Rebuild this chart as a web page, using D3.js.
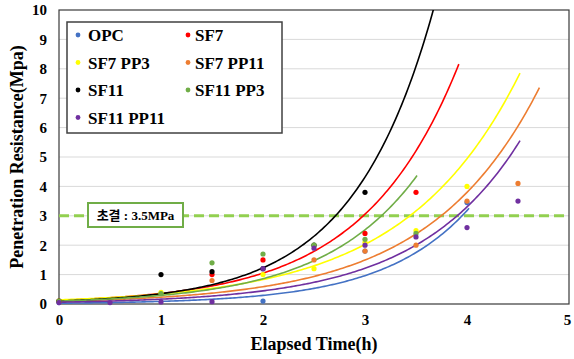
<!DOCTYPE html>
<html>
<head>
<meta charset="utf-8">
<script src="https://cdn.jsdelivr.net/npm/d3@7"></script>
<style>
  body { margin: 0; background: #fff; }
  svg { display: block; font-family: "Liberation Serif", "Times New Roman", serif; }
</style>
</head>
<body>
<div class="chart"></div>
<script>
// series names and colours
const seriesNames = ["OPC", "SF7", "SF7 PP3", "SF7 PP11", "SF11", "SF11 PP3", "SF11 PP11"];
const seriesColors = ["#4472C4", "#FF0000", "#FFFF00", "#ED7D31", "#000000", "#70AD47", "#7030A0"];

// measured points [time (h), resistance (MPa)]
const opcPts = [[0, 0.05], [2, 0.1], [3, 1.8], [4, 3.45]];
const sf7Pts = [[0, 0.1], [1.5, 1.0], [2, 1.5], [3, 2.4], [3.5, 3.8]];
const sf7pp3Pts = [[0, 0.1], [1, 0.4], [2, 1.0], [2.5, 1.2], [3, 2.1], [3.5, 2.5], [4, 4.0]];
const sf7pp11Pts = [[0, 0.1], [1.5, 0.8], [2.5, 1.5], [3, 1.8], [3.5, 2.0], [4, 3.5], [4.5, 4.1]];
const sf11Pts = [[0, 0.1], [1, 1.0], [1.5, 1.1], [2, 1.2], [2.5, 2.0], [3, 3.8]];
const sf11pp3Pts = [[0, 0.1], [1, 0.35], [1.5, 1.4], [2, 1.7], [2.5, 2.0], [3, 2.2], [3.5, 2.4]];
const sf11pp11Pts = [[0, 0.05], [0.5, 0.05], [1, 0.07], [1.5, 0.08], [2, 1.2], [2.5, 1.9], [3, 2.0], [3.5, 2.28], [4, 2.6], [4.5, 3.5]];
const allPts = [opcPts, sf7Pts, sf7pp3Pts, sf7pp11Pts, sf11Pts, sf11pp3Pts, sf11pp11Pts];

// exponential trendlines y = a * exp(b * t), drawn from 0 to tEnd
const trendA = [0.027, 0.124, 0.14, 0.0913, 0.1, 0.1, 0.0605];
const trendB = [1.192, 1.068, 0.891, 0.932, 1.255, 1.076, 1.0];
const trendEnd = [4.02, 3.92, 4.52, 4.71, 3.8, 3.51, 4.52];

const xTicks = [0, 1, 2, 3, 4, 5];
const yTicks = [0, 1, 2, 3, 4, 5, 6, 7, 8, 9, 10];
const setLevel = 3;
const setLabel = "초결 : 3.5MPa";

const W = 574, H = 359;
const margin = { top: 10, right: 5, bottom: 55, left: 59 };
const width = W - margin.left - margin.right,
  height = H - margin.top - margin.bottom;

const svg = d3.select(".chart").append("svg")
  .attr("width", W).attr("height", H);
const g = svg.append("g")
  .attr("transform", "translate(" + margin.left + "," + margin.top + ")");

const xScale = d3.scaleLinear().domain([0, 5]).range([0, width]);
const yScale = d3.scaleLinear().domain([0, 10]).range([height, 0]);

// gridlines
g.append("g").selectAll("line").data(yTicks.slice(1, -1)).join("line")
  .attr("x1", 0).attr("x2", width)
  .attr("y1", d => yScale(d)).attr("y2", d => yScale(d))
  .attr("stroke", "#d9d9d9").attr("stroke-width", 1);

// axes (labels only)
const xAxis = g.append("g").attr("transform", `translate(0,${height})`)
  .call(d3.axisBottom(xScale).tickValues(xTicks).tickFormat(d3.format("d"))
    .tickSize(0).tickPadding(10));
const yAxis = g.append("g")
  .call(d3.axisLeft(yScale).tickValues(yTicks).tickFormat(d3.format("d"))
    .tickSize(0).tickPadding(12));
[xAxis, yAxis].forEach(a => {
  a.select(".domain").remove();
  a.selectAll("text")
    .attr("font-family", "Liberation Serif, serif")
    .attr("font-weight", "bold")
    .attr("font-size", "15px")
    .attr("fill", "#000");
});
xAxis.selectAll(".tick").filter(d => d === 5).select("text").attr("dx", "-2");

// plot frame
g.append("rect").attr("width", width).attr("height", height)
  .attr("fill", "none").attr("stroke", "#3a3a3a").attr("stroke-width", 1.2);

g.append("clipPath").attr("id", "clip")
  .append("rect").attr("width", width).attr("height", height);

// set-time line
g.append("line")
  .attr("x1", 0).attr("x2", width)
  .attr("y1", yScale(setLevel)).attr("y2", yScale(setLevel))
  .attr("stroke", "#92D050").attr("stroke-width", 3)
  .attr("stroke-dasharray", "10,5");

// trendlines
const line = d3.line().x(d => xScale(d[0])).y(d => yScale(d[1]));
const curves = g.append("g").attr("clip-path", "url(#clip)");
seriesNames.forEach((name, i) => {
  const pts = d3.range(0, trendEnd[i] + 1e-9, 0.02)
    .concat([trendEnd[i]])
    .map(t => [t, trendA[i] * Math.exp(trendB[i] * t)]);
  curves.append("path")
    .attr("d", line(pts))
    .attr("fill", "none")
    .attr("stroke", seriesColors[i])
    .attr("stroke-width", 1.6);
});

// points
seriesNames.forEach((name, i) => {
  g.append("g").selectAll("circle").data(allPts[i]).join("circle")
    .attr("cx", d => xScale(d[0]))
    .attr("cy", d => yScale(d[1]))
    .attr("r", 2.6)
    .attr("fill", seriesColors[i]);
});

// label box
const lb = g.append("g").attr("transform", "translate(29,193)");
lb.append("rect").attr("width", 95).attr("height", 24)
  .attr("fill", "#fff").attr("stroke", "#70AD47").attr("stroke-width", 2);
lb.append("text").attr("x", 47.5).attr("y", 16.5)
  .attr("text-anchor", "middle")
  .attr("font-family", "Liberation Serif, 'Noto Sans CJK KR', serif")
  .attr("font-weight", "bold").attr("font-size", "13px")
  .text(setLabel);

// legend
const lg = g.append("g").attr("transform", "translate(8,12)");
lg.append("rect").attr("width", 215).attr("height", 111)
  .attr("fill", "#fff").attr("stroke", "#404040").attr("stroke-width", 1.5);
seriesNames.forEach((name, i) => {
  const col = i % 2, row = Math.floor(i / 2);
  const item = lg.append("g")
    .attr("transform", `translate(${col === 0 ? 11 : 121},${13 + row * 27.5})`);
  item.append("circle").attr("r", 2.4).attr("fill", seriesColors[i]);
  item.append("text").attr("x", col === 0 ? 10 : 7).attr("y", 6)
    .attr("font-weight", "bold").attr("font-size", "17px")
    .text(name);
});

// axis titles
svg.append("text")
  .attr("x", margin.left + width / 2).attr("y", 350)
  .attr("text-anchor", "middle")
  .attr("font-weight", "bold").attr("font-size", "18px")
  .text("Elapsed Time(h)");
svg.append("text")
  .attr("transform", `translate(23,${margin.top + height / 2}) rotate(-90)`)
  .attr("text-anchor", "middle")
  .attr("font-weight", "bold").attr("font-size", "18px")
  .text("Penetration Resistance(Mpa)");
</script>
</body>
</html>
